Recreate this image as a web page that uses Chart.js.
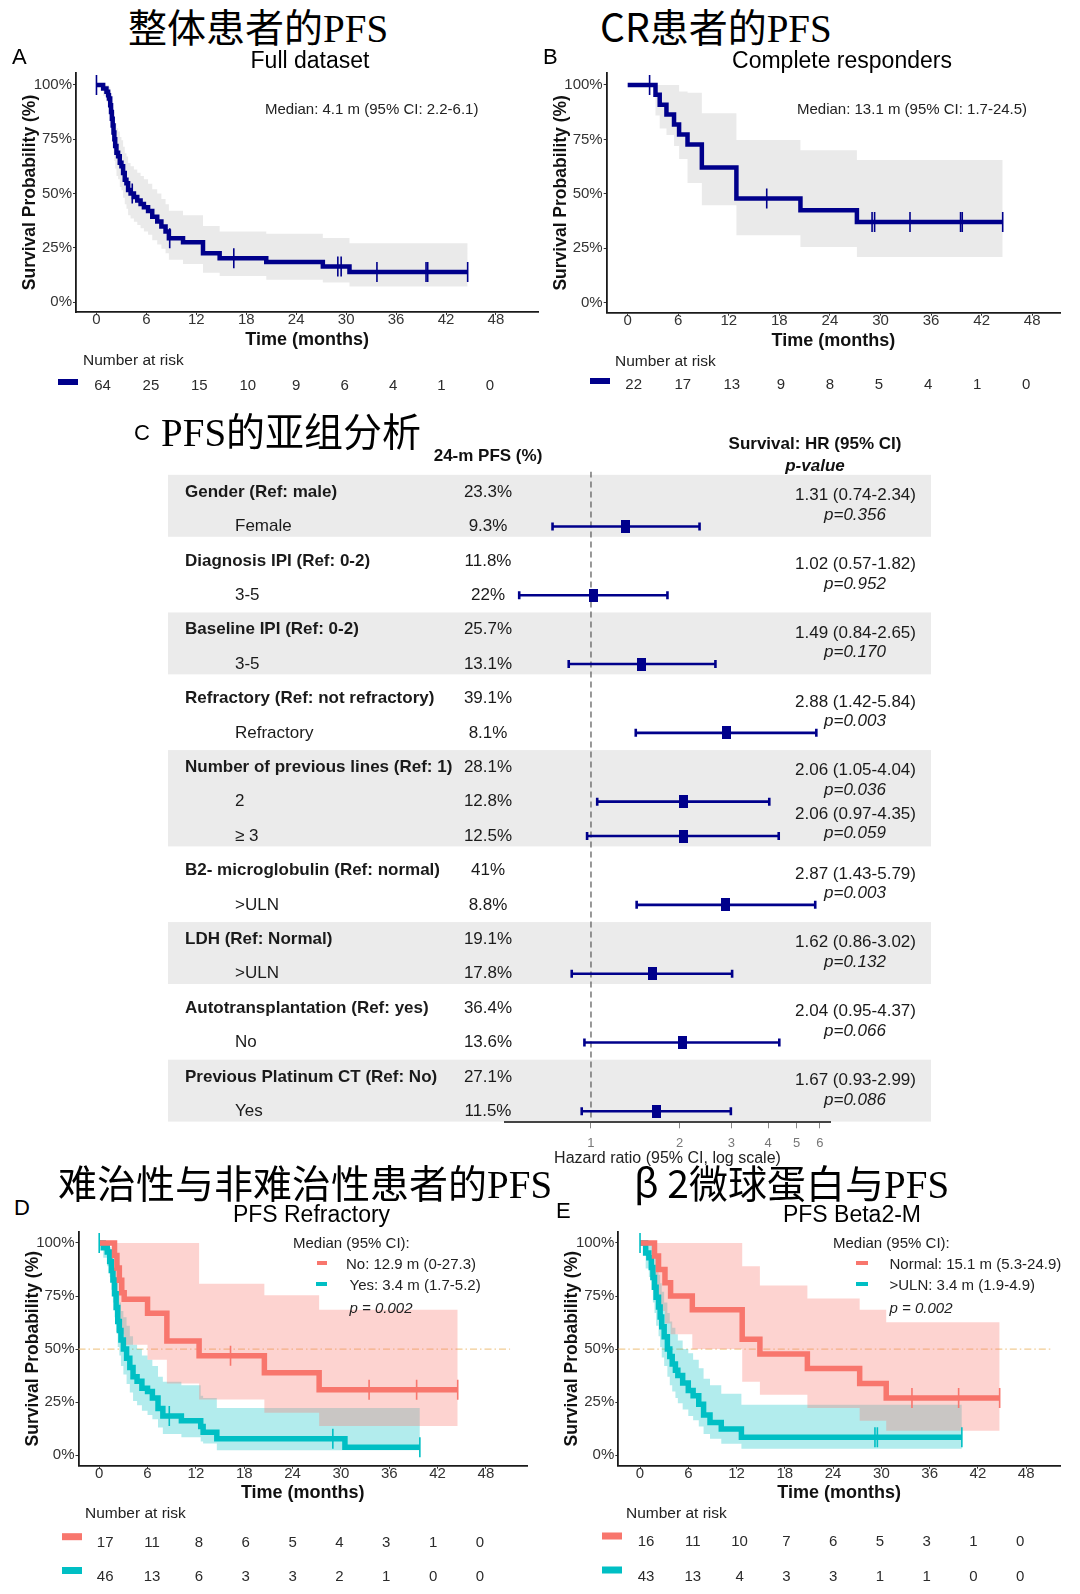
<!DOCTYPE html>
<html>
<head>
<meta charset="utf-8">
<script src="https://cdn.jsdelivr.net/npm/chart.js@4.4.1/dist/chart.umd.min.js"></script>
<style>
  html, body { margin: 0; padding: 0; background: #fff; }
  #page { position: relative; width: 1080px; height: 1594px; overflow: hidden; background: #fff;
          font-family: "Liberation Sans", Arial, sans-serif; color: #1a1a1a; }
  #page canvas { position: absolute; }
  .t { position: absolute; white-space: nowrap; line-height: 1; }
  .cjk { font-family: "Noto Sans CJK SC", sans-serif; color: #000; }
  .lat { font-family: "Liberation Serif", serif; }
  .dash { position: absolute; height: 4px; }
</style>
</head>
<body>
<div id="page"></div>
<script>
const FONT = '"Liberation Sans", Arial, sans-serif';
Chart.defaults.font.family = FONT;

// ---------- shared axes ----------
const timeTicks = [0, 6, 12, 18, 24, 30, 36, 42, 48];
const survTicks = [0, 25, 50, 75, 100];

// ---------- A: full dataset ----------
const fullTime  = [0, 0.8, 1.2, 1.4, 1.5, 1.65, 1.75, 1.85, 1.95, 2.05, 2.15, 2.25, 2.4, 2.6, 2.8, 3.0, 3.2, 3.4, 3.6, 3.8, 4.1, 4.5, 4.9, 5.3, 5.7, 6.2, 6.7, 7.3, 7.8, 8.3, 8.7, 10.4, 12.8, 14.8, 20.4, 27.2, 30.4, 44.6];
const fullSurv  = [100, 98.4, 96.9, 95.3, 93.8, 90.6, 87.5, 84.4, 81.3, 78.1, 75, 71.9, 68.8, 67.2, 64.1, 62.5, 59.4, 56.3, 54.7, 51.6, 50, 48.4, 46.8, 45.2, 43.6, 41.9, 39.3, 37.1, 34.8, 32.5, 29.4, 27.5, 22.5, 20.2, 18.4, 16.4, 13.8, 13.8];
const fullUpper = [100, 100, 100, 100, 99, 97, 95, 92.5, 90, 87.5, 85, 82.5, 80, 78.5, 76, 74.5, 71.5, 68.5, 67, 64, 62.5, 61, 59.5, 58, 56.5, 54.5, 52, 50, 47.5, 45, 42, 40, 35, 32.5, 31.4, 29.5, 27.1, 27.1];
const fullLower = [100, 95, 92, 90, 87, 83, 79, 75.5, 72, 68.5, 65, 61.5, 58, 56.5, 53, 51.5, 48, 45, 43, 40, 38.5, 37, 35.5, 34, 32.5, 31, 28.5, 26.5, 24.5, 22.5, 19.5, 17.5, 13.5, 12, 10.3, 9, 7.2, 7.2];
const fullCensor = [0, 4.3, 8.8, 16.5, 29.0, 29.4, 33.7, 39.6, 39.8, 44.6];
const fullRisk = [64, 25, 15, 10, 9, 6, 4, 1, 0];

// ---------- B: complete responders ----------
const crTime  = [0, 3.3, 3.8, 4.6, 5.5, 6.1, 7.1, 8.8, 12.9, 20.5, 27.2, 44.5];
const crSurv  = [100, 95.5, 90.9, 86.4, 81.8, 77.3, 72.7, 62.1, 47.9, 42.5, 37.1, 37.1];
const crUpper = [100, 100, 100, 100, 100, 97, 96.4, 87, 74.7, 70, 65.5, 65.5];
const crLower = [100, 86, 80, 77, 72, 66, 55, 44.8, 31, 25.6, 21, 21];
const crCensor = [2.6, 16.5, 29.0, 29.3, 33.5, 39.5, 39.7, 44.5];
const crRisk = [22, 17, 13, 9, 8, 5, 4, 1, 0];

// ---------- D: refractory no / yes ----------
const refNoTime  = [0, 1.9, 2.2, 2.5, 2.8, 3.1, 6.0, 8.4, 12.4, 20.5, 27.3, 44.5];
const refNoSurv  = [100, 94.1, 88.2, 82.4, 76.5, 73.5, 66.9, 53.8, 46.9, 38.9, 30.8, 30.8];
const refNoUpper = [100, 100, 100, 100, 100, 100, 100, 100, 80.8, 75.4, 68.5, 68.5];
const refNoLower = [100, 80, 72, 64, 57, 52, 45, 33.8, 26.2, 20, 13.8, 13.8];
const refNoCensor = [16.3, 33.5, 39.4, 44.5];
const refNoRisk = [17, 11, 8, 6, 5, 4, 3, 1, 0];

const refYesTime  = [0, 0.5, 1.0, 1.3, 1.5, 1.7, 1.9, 2.1, 2.3, 2.5, 2.7, 3.0, 3.4, 3.8, 4.2, 4.7, 5.3, 6.0, 6.6, 7.3, 7.9, 10.2, 12.6, 12.9, 14.6, 30.5, 39.8];
const refYesSurv  = [100, 97.8, 95.7, 91.3, 87, 82.6, 76.1, 69.6, 63, 58.7, 54.3, 50, 45.7, 41.3, 37, 34.8, 31.5, 30, 27, 22, 18.5, 16.2, 13.5, 10.8, 7.7, 3.8, 3.8];
const refYesUpper = [100, 100, 100, 98, 95, 92, 88, 82, 77, 72, 68, 65, 61, 56, 52, 50, 47, 45, 42, 37, 34.6, 33, 28, 26.9, 22.3, 22.3, 22.3];
const refYesLower = [100, 93, 89, 84, 78, 72, 65, 58, 51, 47, 42, 38, 33.5, 29.5, 25.5, 23.5, 21, 19, 17, 13, 10, 8.5, 6.5, 5.5, 2.3, 2.3, 2.3];
const refYesCensor = [0, 8.7, 29.0, 39.8];
const refYesRisk = [46, 13, 6, 3, 3, 2, 1, 0, 0];

// ---------- E: beta2-microglobulin normal / >ULN ----------
const b2NormTime  = [0, 1.8, 2.3, 3.1, 3.8, 6.5, 12.7, 14.9, 20.8, 27.3, 30.6, 44.7];
const b2NormSurv  = [100, 93.8, 87.5, 81.3, 75, 68.5, 54.6, 47.7, 40.8, 33.8, 26.9, 26.9];
const b2NormUpper = [100, 100, 100, 100, 100, 100, 89, 80, 73.8, 68.5, 62.6, 62.6];
const b2NormLower = [100, 75, 68, 62, 57, 50, 34.6, 28.5, 22.3, 16.2, 11.5, 11.5];
const b2NormCensor = [33.8, 39.6, 44.7];
const b2NormRisk = [16, 11, 10, 7, 6, 5, 3, 1, 0];

const b2HighTime  = [0, 0.7, 1.1, 1.4, 1.6, 1.8, 2.0, 2.3, 2.5, 2.7, 3.0, 3.4, 3.7, 4.0, 4.4, 4.7, 5.3, 6.0, 6.6, 7.3, 7.9, 8.7, 10.1, 12.6, 40];
const b2HighSurv  = [100, 95.3, 93, 88.4, 83.7, 79.1, 74.4, 69.8, 65.1, 60.5, 55.8, 50, 46.5, 43, 40, 37.5, 34, 30.5, 28, 24, 19, 15.4, 12.3, 8.5, 8.5];
const b2HighUpper = [100, 100, 100, 99, 96, 93, 89, 85, 81, 77, 72, 67, 63, 60, 57, 54, 50, 48, 45, 41, 36, 33, 29, 23.8, 23.8];
const b2HighLower = [100, 88, 84, 78, 72, 67, 61, 56, 51, 46, 42, 37, 33, 30, 27, 24.5, 21.5, 18.5, 16.5, 13.5, 10, 7.8, 5.4, 3.1, 3.1];
const b2HighCensor = [0, 29.2, 29.5, 40];
const b2HighRisk = [43, 13, 4, 3, 3, 1, 1, 0, 0];

// ---------- C: subgroup forest ----------
const subgroups = ['Gender (Ref: male)', 'Female', 'Diagnosis IPI (Ref: 0-2)', '3-5', 'Baseline IPI (Ref: 0-2)', '3-5',
  'Refractory (Ref: not refractory)', 'Refractory', 'Number of previous lines (Ref: 1)', '2', '\u2265 3',
  'B2- microglobulin (Ref: normal)', '>ULN', 'LDH (Ref: Normal)', '>ULN', 'Autotransplantation (Ref: yes)', 'No',
  'Previous Platinum CT (Ref: No)', 'Yes'];
const isHeader = [1, 0, 1, 0, 1, 0, 1, 0, 1, 0, 0, 1, 0, 1, 0, 1, 0, 1, 0];
const pfs24m = ['23.3%', '9.3%', '11.8%', '22%', '25.7%', '13.1%', '39.1%', '8.1%', '28.1%', '12.8%', '12.5%', '41%', '8.8%', '19.1%', '17.8%', '36.4%', '13.6%', '27.1%', '11.5%'];
const hrEst  = [null, 1.31, null, 1.02, null, 1.49, null, 2.88, null, 2.06, 2.06, null, 2.87, null, 1.62, null, 2.04, null, 1.67];
const hrLow  = [null, 0.74, null, 0.57, null, 0.84, null, 1.42, null, 1.05, 0.97, null, 1.43, null, 0.86, null, 0.95, null, 0.93];
const hrHigh = [null, 2.34, null, 1.82, null, 2.65, null, 5.84, null, 4.04, 4.35, null, 5.79, null, 3.02, null, 4.37, null, 2.99];
const pValue = [null, '0.356', null, '0.952', null, '0.170', null, '0.003', null, '0.036', '0.059', null, '0.003', null, '0.132', null, '0.066', null, '0.086'];
const hrTicks = [1, 2, 3, 4, 5, 6];

const NAVY = '#00008b', RED = '#f8766d', TEAL = '#00bfc4';
const page = document.getElementById('page');

function txt(html, x, y, o = {}) {
    const d = document.createElement('div');
    d.className = 't' + (o.cls ? ' ' + o.cls : '');
    d.innerHTML = html;
    d.style.left = x + 'px';
    d.style.top = y + 'px';
    d.style.fontSize = (o.size || 15) + 'px';
    if (o.bold) d.style.fontWeight = 'bold';
    if (o.italic) d.style.fontStyle = 'italic';
    if (o.color) d.style.color = o.color;
    const ax = o.align === 'center' ? '-50%' : '0';
    d.style.transform = 'translate(' + ax + ', -50%)';
    page.appendChild(d);
}

function dash(x, y, w, color) {
    const d = document.createElement('div');
    d.className = 'dash';
    d.style.left = x + 'px';
    d.style.top = (y - 2) + 'px';
    d.style.width = w + 'px';
    d.style.background = color;
    page.appendChild(d);
}

function pts(t, v) {
    return t.map((x, i) => ({ x: x, y: v[i] }));
}

function stepAt(t, v, x) {
    let y = v[0];
    t.forEach((tt, i) => { if (tt <= x) y = v[i]; });
    return y;
}

function kmChart(c) {
    const cv = document.createElement('canvas');
    cv.width = c.box.w;
    cv.height = c.box.h;
    cv.style.left = c.box.x + 'px';
    cv.style.top = c.box.y + 'px';
    page.appendChild(cv);

    const X_H = 41;
    const datasets = [];
    c.groups.forEach(g => {
        datasets.push({ data: pts(g.time, g.surv), stepped: true, borderColor: g.color, borderWidth: c.lw,
            pointRadius: 0, fill: false, order: 1 });
        datasets.push({ data: g.censor.map(x => ({ x: x, y: stepAt(g.time, g.surv, x) })), showLine: false,
            pointStyle: 'line', pointRotation: 90, pointRadius: 10, pointBorderWidth: 1.6,
            pointBorderColor: g.color, borderColor: g.color, order: 0 });
    });
    c.groups.forEach(g => {
        datasets.push({ data: pts(g.time, g.upper), stepped: true, borderWidth: 0, borderColor: 'transparent',
            pointRadius: 0, fill: '+1', backgroundColor: g.band, order: 2 });
        datasets.push({ data: pts(g.time, g.lower), stepped: true, borderWidth: 0, borderColor: 'transparent',
            pointRadius: 0, fill: false, order: 2 });
    });

    const deco = {
        id: 'deco',
        beforeDatasetsDraw(ch) {
            if (!c.median) return;
            const ctx = ch.ctx, ca = ch.chartArea, xs = ch.scales.x, ys = ch.scales.y;
            const py = ys.getPixelForValue(50);
            ctx.save();
            ctx.strokeStyle = 'rgba(236,190,120,0.8)';
            ctx.lineWidth = 1.3;
            ctx.setLineDash([7, 3, 1.5, 3]);
            ctx.beginPath();
            ctx.moveTo(ca.left, py);
            ctx.lineTo(xs.getPixelForValue(51), py);
            ctx.stroke();
            ctx.restore();
        },
        afterDraw(ch) {
            const ctx = ch.ctx, xs = ch.scales.x;
            const p0 = xs.getPixelForValue(timeTicks[0]);
            const p1 = xs.getPixelForValue(timeTicks[timeTicks.length - 1]);
            const k = (p1 - p0 - 12) / (p1 - p0);
            ctx.save();
            ctx.font = '15px ' + FONT;
            ctx.textAlign = 'center';
            ctx.textBaseline = 'middle';
            c.groups.forEach(g => {
                ctx.fillStyle = g.color;
                ctx.fillRect(c.barX - c.box.x, g.barY - c.box.y - c.barH / 2, 20, c.barH);
                ctx.fillStyle = '#2b2b2b';
                g.risk.forEach((n, i) => {
                    const px = p0 + 6 + (xs.getPixelForValue(timeTicks[i]) - p0) * k;
                    ctx.fillText(String(n), px, g.riskY - c.box.y);
                });
            });
            ctx.restore();
        }
    };

    new Chart(cv, {
        type: 'line',
        data: { datasets: datasets },
        options: {
            responsive: false,
            animation: false,
            events: [],
            layout: {
                padding: {
                    left: 0,
                    top: c.area.t - c.box.y,
                    right: c.box.x + c.box.w - c.area.r,
                    bottom: c.box.y + c.box.h - c.area.b - X_H
                }
            },
            scales: {
                x: {
                    type: 'linear', min: c.xRange[0], max: c.xRange[1],
                    afterBuildTicks: s => { s.ticks = timeTicks.map(v => ({ value: v })); },
                    afterFit: s => { s.height = X_H; s.paddingLeft = 0; s.paddingRight = 0; },
                    grid: { drawOnChartArea: false, tickLength: 3, color: '#333' },
                    border: { color: '#1a1a1a', width: 1.8 },
                    ticks: { color: '#333', font: { size: 15 }, padding: -4, maxRotation: 0, autoSkip: false },
                    title: { display: true, text: 'Time (months)', color: '#111',
                        font: { size: 18, weight: 'bold' }, padding: { top: 0, bottom: c.xTitlePad } }
                },
                y: {
                    type: 'linear', min: c.yRange[0], max: c.yRange[1],
                    afterBuildTicks: s => { s.ticks = survTicks.map(v => ({ value: v })); },
                    afterFit: s => { s.width = c.area.l - c.box.x; s.paddingTop = 0; s.paddingBottom = 0; },
                    grid: { drawOnChartArea: false, tickLength: 3, color: '#333' },
                    border: { color: '#1a1a1a', width: 1.8 },
                    ticks: { color: '#333', font: { size: 15 }, padding: 1, callback: v => v + '%' },
                    title: { display: true, text: 'Survival Probability (%)', color: '#111',
                        font: { size: 17.5, weight: 'bold' },
                        padding: { top: c.yTitleX - c.box.x - 10.5, bottom: 0 } }
                }
            },
            plugins: { legend: { display: false }, tooltip: { enabled: false } }
        },
        plugins: [deco]
    });
}

function forestChart() {
    const box = { x: 0, y: 430, w: 1080, h: 745 };
    const yMin = -0.6, yMax = 18.32;
    const cv = document.createElement('canvas');
    cv.width = box.w;
    cv.height = box.h;
    cv.style.left = box.x + 'px';
    cv.style.top = box.y + 'px';
    page.appendChild(cv);

    const sq = document.createElement('canvas');
    sq.width = 9;
    sq.height = 13;
    const sctx = sq.getContext('2d');
    sctx.fillStyle = NAVY;
    sctx.fillRect(0, 0, 9, 13);

    const datasets = [{
        data: hrEst.map((v, i) => (v == null ? null : { x: v, y: i })).filter(Boolean),
        showLine: false, pointStyle: sq, pointRadius: 6, order: 0
    }];
    hrEst.forEach((v, i) => {
        if (v == null) return;
        datasets.push({
            data: [{ x: hrLow[i], y: i }, { x: hrHigh[i], y: i }],
            borderColor: NAVY, borderWidth: 2.6, pointStyle: 'line', pointRotation: 90,
            pointRadius: 4, pointBorderWidth: 2.6, pointBorderColor: NAVY, order: 1
        });
    });
    datasets.push({
        data: [{ x: 1, y: yMin }, { x: 1, y: yMax }],
        borderColor: '#555', borderWidth: 1.2, borderDash: [6, 4], pointRadius: 0, order: 3
    });

    // groups: header row plus its sub rows
    const groups = [];
    isHeader.forEach((h, i) => {
        if (h) groups.push({ first: i, last: i });
        else groups[groups.length - 1].last = i;
    });

    const forestDeco = {
        id: 'forestDeco',
        beforeDraw(ch) {
            const ctx = ch.ctx, ys = ch.scales.y;
            ctx.save();
            ctx.fillStyle = '#ebebeb';
            groups.forEach((g, gi) => {
                if (gi % 2) return;
                const a = ys.getPixelForValue(g.first - 0.5), b = ys.getPixelForValue(g.last + 0.3);
                ctx.fillRect(168, Math.min(a, b), 931 - 168, Math.abs(b - a));
            });
            ctx.restore();
        },
        afterDraw(ch) {
            const ctx = ch.ctx, ys = ch.scales.y;
            ctx.save();
            ctx.textBaseline = 'middle';
            ctx.fillStyle = '#1a1a1a';
            subgroups.forEach((s, i) => {
                const py = ys.getPixelForValue(i);
                ctx.textAlign = 'left';
                ctx.font = (isHeader[i] ? 'bold ' : '') + '17px ' + FONT;
                ctx.fillText(s, isHeader[i] ? 185 : 235, py);
                ctx.textAlign = 'center';
                ctx.font = '17px ' + FONT;
                ctx.fillText(pfs24m[i], 488, py);
            });
            ctx.textAlign = 'left';
            hrEst.forEach((v, i) => {
                if (v == null) return;
                const stacked = hrEst[i - 1] != null;
                const yH = ys.getPixelForValue(i - (stacked ? 0.64 : 0.9));
                const yP = ys.getPixelForValue(i - (stacked ? 0.09 : 0.33));
                ctx.font = '17px ' + FONT;
                ctx.fillText(v.toFixed(2) + ' (' + hrLow[i].toFixed(2) + '-' + hrHigh[i].toFixed(2) + ')', 795, yH);
                ctx.font = 'italic 17px ' + FONT;
                ctx.fillText('p=' + pValue[i], 824, yP);
            });
            ctx.restore();
        }
    };

    new Chart(cv, {
        type: 'line',
        data: { datasets: datasets },
        options: {
            responsive: false,
            animation: false,
            events: [],
            layout: { padding: { left: 505, right: 250, top: 41.4, bottom: 0 } },
            scales: {
                x: {
                    type: 'logarithmic', min: 0.51, max: 6.5,
                    afterBuildTicks: s => { s.ticks = hrTicks.map(v => ({ value: v })); },
                    afterFit: s => { s.height = 52.7; s.paddingLeft = 0; s.paddingRight = 0; },
                    grid: { drawOnChartArea: false, tickLength: 6, color: '#888' },
                    border: { color: '#444', width: 2 },
                    ticks: { color: '#777', font: { size: 13 }, padding: 7, autoSkip: false, maxRotation: 0,
                        callback: v => String(v) },
                    title: { display: true, text: 'Hazard ratio (95% CI, log scale)', color: '#222',
                        font: { size: 16 }, padding: { top: 0, bottom: 6.4 } }
                },
                y: { type: 'linear', reverse: true, min: yMin, max: yMax, display: false }
            },
            plugins: { legend: { display: false }, tooltip: { enabled: false } }
        },
        plugins: [forestDeco]
    });
}

// ---------- build panels ----------
kmChart({
    box: { x: 0, y: 60, w: 550, h: 345 },
    area: { l: 76, r: 543, t: 73, b: 312 },
    xRange: [-2.46, 53.1], yRange: [-4.6, 105.5],
    lw: 4.5, yTitleX: 30, xTitlePad: 1.7, barX: 58, barH: 6,
    groups: [{ time: fullTime, surv: fullSurv, upper: fullUpper, lower: fullLower, censor: fullCensor,
        color: NAVY, band: 'rgba(200,200,200,0.38)', risk: fullRisk, riskY: 386, barY: 382 }]
});

kmChart({
    box: { x: 530, y: 60, w: 550, h: 345 },
    area: { l: 606.7, r: 1060, t: 73, b: 312.7 },
    xRange: [-2.49, 51.3], yRange: [-4.6, 105.5],
    lw: 4.5, yTitleX: 561, xTitlePad: 2.2, barX: 590, barH: 6,
    groups: [{ time: crTime, surv: crSurv, upper: crUpper, lower: crLower, censor: crCensor,
        color: NAVY, band: 'rgba(200,200,200,0.38)', risk: crRisk, riskY: 385, barY: 381 }]
});

forestChart();

kmChart({
    box: { x: 0, y: 1220, w: 545, h: 374 },
    area: { l: 78.5, r: 527, t: 1226.7, b: 1465.7 },
    xRange: [-2.57, 53.1], yRange: [-4.94, 105.35],
    lw: 5.5, yTitleX: 32.7, xTitlePad: 3, barX: 62, barH: 7, median: true,
    groups: [
        { time: refNoTime, surv: refNoSurv, upper: refNoUpper, lower: refNoLower, censor: refNoCensor,
            color: RED, band: 'rgba(248,118,109,0.32)', risk: refNoRisk, riskY: 1543.3, barY: 1536.7 },
        { time: refYesTime, surv: refYesSurv, upper: refYesUpper, lower: refYesLower, censor: refYesCensor,
            color: TEAL, band: 'rgba(0,191,196,0.3)', risk: refYesRisk, riskY: 1576.7, barY: 1570.5 }
    ]
});

kmChart({
    box: { x: 540, y: 1220, w: 540, h: 374 },
    area: { l: 618.3, r: 1060, t: 1226.7, b: 1465.7 },
    xRange: [-2.7, 52.2], yRange: [-4.94, 105.35],
    lw: 5.5, yTitleX: 572, xTitlePad: 3, barX: 602, barH: 7, median: true,
    groups: [
        { time: b2NormTime, surv: b2NormSurv, upper: b2NormUpper, lower: b2NormLower, censor: b2NormCensor,
            color: RED, band: 'rgba(248,118,109,0.32)', risk: b2NormRisk, riskY: 1541.7, barY: 1536 },
        { time: b2HighTime, surv: b2HighSurv, upper: b2HighUpper, lower: b2HighLower, censor: b2HighCensor,
            color: TEAL, band: 'rgba(0,191,196,0.3)', risk: b2HighRisk, riskY: 1576.7, barY: 1570 }
    ]
});

// ---------- text ----------
txt('整体患者的<span class="lat">PFS</span>', 128, 27, { cls: 'cjk', size: 39 });
txt('CR患者的<span class="lat">PFS</span>', 600, 27, { cls: 'cjk', size: 39 });
txt('A', 12, 57, { size: 22, color: '#000' });
txt('B', 543, 57, { size: 22, color: '#000' });
txt('Full dataset', 310, 60, { size: 23, align: 'center', color: '#000' });
txt('Complete responders', 842, 60, { size: 23, align: 'center', color: '#000' });
txt('Median: 4.1 m (95% CI: 2.2-6.1)', 265, 108, { size: 15, color: '#222' });
txt('Median: 13.1 m (95% CI: 1.7-24.5)', 797, 108, { size: 15, color: '#222' });
txt('Number at risk', 83, 360, { size: 15.5, color: '#222' });
txt('Number at risk', 615, 361, { size: 15.5, color: '#222' });

txt('C', 134, 433, { size: 22, color: '#000' });
txt('<span class="lat">PFS</span>的亚组分析', 161, 431, { cls: 'cjk', size: 39 });
txt('24-m PFS (%)', 488, 455, { size: 17, bold: true, align: 'center', color: '#111' });
txt('Survival: HR (95% CI)', 815, 443, { size: 17, bold: true, align: 'center', color: '#111' });
txt('p-value', 815, 465, { size: 17, bold: true, italic: true, align: 'center', color: '#111' });

txt('难治性与非难治性患者的<span class="lat">PFS</span>', 58, 1183, { cls: 'cjk', size: 39 });
txt('β 2微球蛋白与<span class="lat">PFS</span>', 634, 1183, { cls: 'cjk', size: 39 });
txt('D', 14, 1208, { size: 22, color: '#000' });
txt('E', 556, 1211, { size: 22, color: '#000' });
txt('PFS Refractory', 311.5, 1214, { size: 23, align: 'center', color: '#000' });
txt('PFS Beta2-M', 852, 1214, { size: 23, align: 'center', color: '#000' });

txt('Median (95% CI):', 293, 1242, { size: 15, color: '#222' });
dash(317, 1263, 10, RED);
txt('No: 12.9 m (0-27.3)', 346, 1263, { size: 15, color: '#222' });
dash(316, 1284, 11, TEAL);
txt('Yes: 3.4 m (1.7-5.2)', 349.5, 1284, { size: 15, color: '#222' });
txt('p = 0.002', 349.5, 1307, { size: 15, italic: true, color: '#222' });

txt('Median (95% CI):', 833, 1242, { size: 15, color: '#222' });
dash(856, 1263, 12, RED);
txt('Normal: 15.1 m (5.3-24.9)', 889.5, 1263, { size: 15, color: '#222' });
dash(856, 1284, 12, TEAL);
txt('>ULN: 3.4 m (1.9-4.9)', 889.5, 1284, { size: 15, color: '#222' });
txt('p = 0.002', 889.5, 1307, { size: 15, italic: true, color: '#222' });

txt('Number at risk', 85, 1513, { size: 15.5, color: '#222' });
txt('Number at risk', 626, 1513, { size: 15.5, color: '#222' });
</script>
</body>
</html>
